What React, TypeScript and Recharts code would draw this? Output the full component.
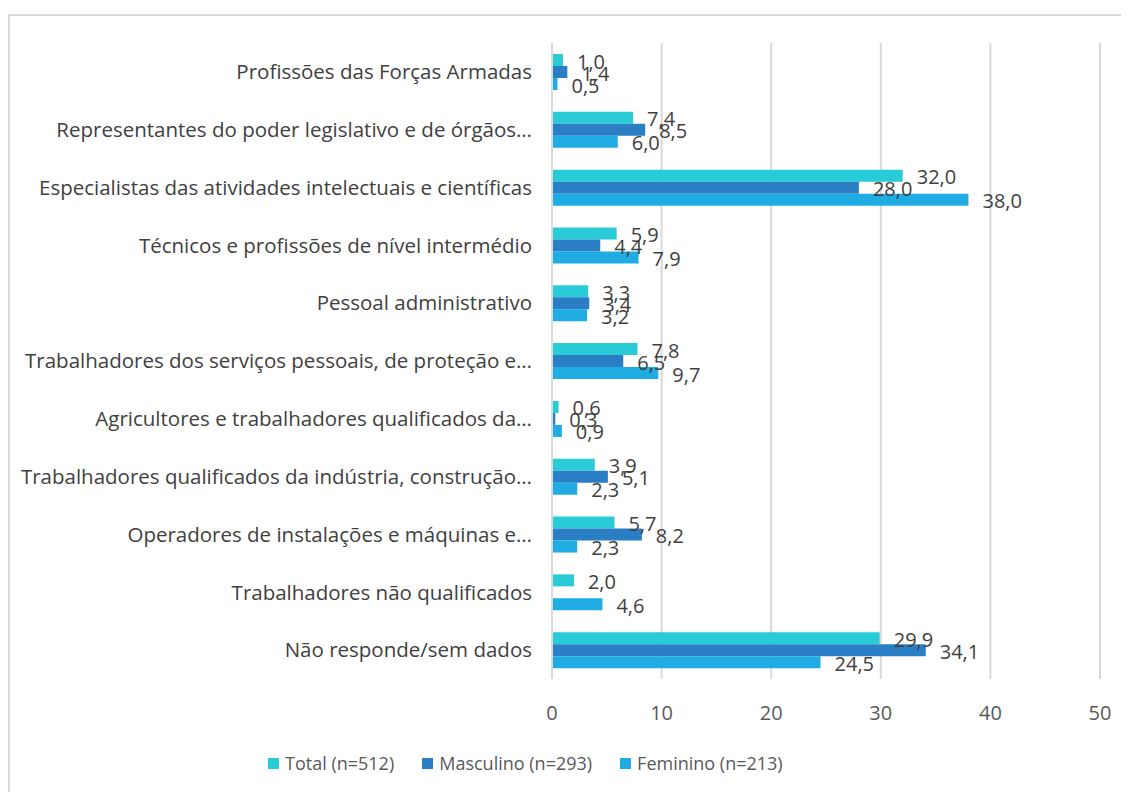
import { Bar, BarChart, CartesianGrid, LabelList, Legend, XAxis, YAxis } from "recharts";

const categories = [
    "Profissões das Forças Armadas",
    "Representantes do poder legislativo e de órgãos…",
    "Especialistas das atividades intelectuais e científicas",
    "Técnicos e profissões de nível intermédio",
    "Pessoal administrativo",
    "Trabalhadores dos serviços pessoais, de proteção e…",
    "Agricultores e trabalhadores qualificados da…",
    "Trabalhadores qualificados da indústria, construção…",
    "Operadores de instalações e máquinas e…",
    "Trabalhadores não qualificados",
    "Não responde/sem dados",
];

const total = [1.0, 7.4, 32.0, 5.9, 3.3, 7.8, 0.6, 3.9, 5.7, 2.0, 29.9];
const masculino = [1.4, 8.5, 28.0, 4.4, 3.4, 6.5, 0.3, 5.1, 8.2, 0.0, 34.1];
const feminino = [0.5, 6.0, 38.0, 7.9, 3.2, 9.7, 0.9, 2.3, 2.3, 4.6, 24.5];

const xTicks = [0, 10, 20, 30, 40, 50];

const series = [
    { key: "total", name: "Total (n=512)", color: "#29CCD6" },
    { key: "masculino", name: "Masculino (n=293)", color: "#2A7FC4" },
    { key: "feminino", name: "Feminino (n=213)", color: "#1EACE3" },
];

const data = categories.map((name, i) => ({
    name,
    total: total[i],
    masculino: masculino[i],
    feminino: feminino[i],
}));

const FONT = "'Open Sans', sans-serif";

const fmt = (v: number) => v.toFixed(1).replace(".", ",");

const ValueLabel = (props: any) => {
    const { x, y, width, height, value } = props;
    return (
        <text
            x={x + width + 14}
            y={y + height / 2 + 1}
            fill="#404040"
            fontSize={20}
            fontFamily={FONT}
            textAnchor="start"
            dominantBaseline="central"
        >
            {fmt(value)}
        </text>
    );
};

const LegendContent = () => (
    <div
        style={{
            display: "flex",
            justifyContent: "flex-start",
            paddingLeft: 258,
            gap: 28,
            fontFamily: FONT,
            fontSize: 18,
            lineHeight: "26px",
            color: "#595959",
        }}
    >
        {series.map((s) => (
            <div key={s.key} style={{ display: "flex", alignItems: "center" }}>
                <span style={{ width: 11, height: 11, background: s.color, marginRight: 6 }} />
                {s.name}
            </div>
        ))}
    </div>
);

const App = () => {
    return (
        <div
            style={{
                marginTop: 6,
                width: 1121,
                height: 778,
                borderTop: "2px solid #d9d9d9",
                borderLeft: "2px solid #d9d9d9",
                boxSizing: "border-box",
                background: "#fff",
            }}
        >
            <BarChart
                width={1119}
                height={776}
                data={data}
                layout="vertical"
                barGap={0}
                margin={{ top: 27, right: 29, left: 0, bottom: 37 }}
            >
                <CartesianGrid horizontal={false} stroke="#d9d9d9" strokeWidth={2} />
                <XAxis
                    type="number"
                    domain={[0, 50]}
                    ticks={xTicks}
                    axisLine={false}
                    tickLine={false}
                    tick={{ fill: "#595959", fontSize: 20, fontFamily: FONT }}
                    tickMargin={21}
                    height={50}
                />
                <YAxis
                    type="category"
                    dataKey="name"
                    width={542}
                    interval={0}
                    axisLine={{ stroke: "#d9d9d9", strokeWidth: 2 }}
                    tickLine={false}
                    tickMargin={14}
                    tick={{ fill: "#404040", fontSize: 20.5, fontFamily: FONT }}
                />
                <Legend
                    verticalAlign="bottom"
                    height={26}
                    content={<LegendContent />}
                    wrapperStyle={{ bottom: 16, left: 0 }}
                />
                {series.map((s) => (
                    <Bar
                        key={s.key}
                        dataKey={s.key}
                        name={s.name}
                        fill={s.color}
                        barSize={12}
                        isAnimationActive={false}
                    >
                        <LabelList dataKey={s.key} content={<ValueLabel />} />
                    </Bar>
                ))}
            </BarChart>
        </div>
    );
};

export default App;
